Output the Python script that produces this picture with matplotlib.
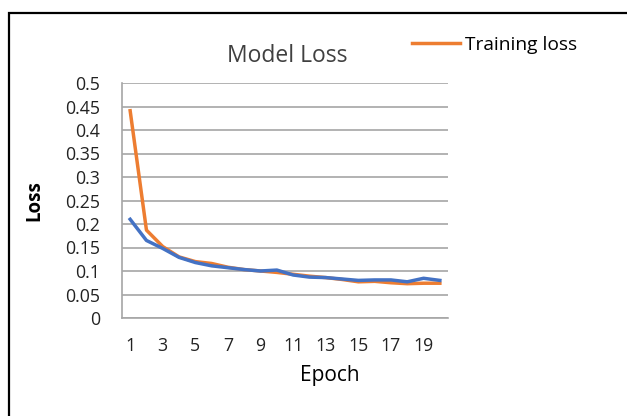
import matplotlib
matplotlib.use("Agg")
import matplotlib.pyplot as plt
from matplotlib.patches import Rectangle

epochs = list(range(1, 21))
training_loss = [0.441, 0.187, 0.152, 0.130, 0.120, 0.116, 0.108, 0.103, 0.100, 0.097,
                 0.093, 0.089, 0.086, 0.082, 0.077, 0.078, 0.075, 0.073, 0.074, 0.074]
validation_loss = [0.210, 0.165, 0.148, 0.129, 0.118, 0.111, 0.107, 0.103, 0.100, 0.102,
                   0.0915, 0.087, 0.086, 0.083, 0.080, 0.081, 0.081, 0.077, 0.0845, 0.080]
y_ticks = [0, 0.05, 0.1, 0.15, 0.2, 0.25, 0.3, 0.35, 0.4, 0.45, 0.5]
y_tick_labels = ["0", "0.05", "0.1", "0.15", "0.2", "0.25", "0.3", "0.35", "0.4", "0.45", "0.5"]

plt.rcParams["font.family"] = ["Open Sans", "DejaVu Sans"]

W, H = 627, 416
fig = plt.figure(figsize=(W / 100, H / 100), dpi=100)

# outer chart frame (cut off on the right and bottom)
fig.patches.append(Rectangle((9 / W, -0.1), 1.2, 1.1 - 13 / H, transform=fig.transFigure,
                             fill=False, edgecolor="black", linewidth=1.6))

ax = fig.add_axes([122 / W, 1 - 318 / H, (448 - 122) / W, (318 - 83) / H])
ax.plot(epochs, training_loss, color="#ED7D31", linewidth=2.5, label="Training loss")
ax.plot(epochs, validation_loss, color="#4472C4", linewidth=2.5)

ax.set_xlim(0.5, 20.5)
ax.set_ylim(0, 0.5)
ax.set_yticks(y_ticks)
ax.set_yticklabels(y_tick_labels)
ax.set_xticks(epochs[::2])
ax.tick_params(axis="both", length=0, labelsize=12.8, colors="#222222")
ax.tick_params(axis="y", pad=16)
ax.tick_params(axis="x", pad=14)
ax.grid(axis="y", color="#A6A6A6", linewidth=1.2)
ax.set_axisbelow(True)
for side in ("top", "right"):
    ax.spines[side].set_visible(False)
for side in ("left", "bottom"):
    ax.spines[side].set_color("#A6A6A6")
    ax.spines[side].set_linewidth(1.2)

fig.text(287 / W, 1 - 56 / H, "Model Loss", ha="center", va="center", fontsize=16.5, color="#404040")
fig.text(34 / W, 1 - 201 / H, "Loss", ha="center", va="center", rotation=90,
         fontsize=13.5, fontweight="bold", color="black")
fig.text(330 / W, 1 - 376 / H, "Epoch", ha="center", va="center", fontsize=15, color="black")

fig.legend(loc="center left", bbox_to_anchor=(404 / W, 1 - 45 / H), frameon=False,
           fontsize=13.8, handlelength=2.5, handletextpad=0.26, borderaxespad=0)

fig.savefig("out.png", dpi=100)
